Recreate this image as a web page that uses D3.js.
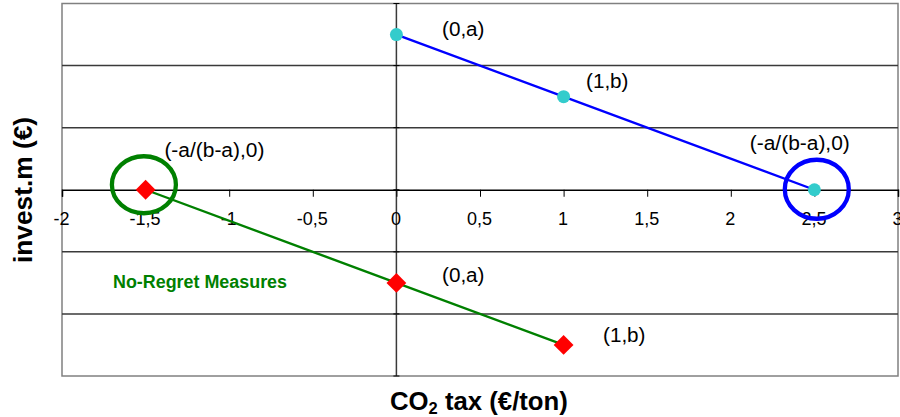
<!DOCTYPE html>
<html><head><meta charset="utf-8">
<script src="https://cdn.jsdelivr.net/npm/d3@7"></script>
<style>body{margin:0;background:#fff}svg{display:block}</style>
</head><body>
<svg id="c" width="900" height="417"></svg>
<script>
const xTicks = [-2, -1.5, -1, -0.5, 0, 0.5, 1, 1.5, 2, 2.5, 3];
const yGrid = [-3, -2, -1, 0, 1, 2, 3];
const blueX = [0, 1, 2.5];
const blueY = [2.5, 1.5, 0];
const blueLabels = ["(0,a)", "(1,b)", "(-a/(b-a),0)"];
const greenX = [-1.5, 0, 1];
const greenY = [0, -1.5, -2.5];
const greenLabels = ["(-a/(b-a),0)", "(0,a)", "(1,b)"];

const svg = d3.select("#c");
const x = d3.scaleLinear().domain([-2, 3]).range([62, 898]);
const y = d3.scaleLinear().domain([-3, 3]).range([376, 3.5]);
const font = "Liberation Sans, Arial, sans-serif";

// frame
svg.append("rect").attr("x", 62).attr("y", 3.5).attr("width", 836).attr("height", 372.5)
  .attr("fill", "none").attr("stroke", "#808080").attr("stroke-width", 1.5);
// gridlines
svg.selectAll(".g").data(yGrid.filter(v => v > -3 && v < 3 && v !== 0)).enter().append("line")
  .attr("x1", 62).attr("x2", 898).attr("y1", d => y(d)).attr("y2", d => y(d))
  .attr("stroke", "#3a3a3a").attr("stroke-width", 1.5);
// y axis at x=0
svg.append("line").attr("x1", x(0)).attr("x2", x(0)).attr("y1", 3.5).attr("y2", 376)
  .attr("stroke", "#3a3a3a").attr("stroke-width", 1.5);
svg.selectAll(".yt").data(yGrid).enter().append("line")
  .attr("x1", x(0) - 3).attr("x2", x(0) + 3).attr("y1", d => y(d)).attr("y2", d => y(d))
  .attr("stroke", "#000").attr("stroke-width", 1);
// x axis at y=0
const xAxis = d3.axisBottom(x).tickValues(xTicks).tickSize(7).tickPadding(0)
  .tickFormat(d => String(d).replace(".", ","));
const gx = svg.append("g").attr("transform", `translate(0,${y(0)})`).call(xAxis);
gx.select(".domain").attr("stroke", "#000").attr("stroke-width", 1.5);
gx.selectAll(".tick line").attr("stroke", "#000").attr("stroke-width", 1);
gx.selectAll(".tick text").attr("font-family", font).attr("font-size", 18).attr("fill", "#000")
  .attr("dy", null).attr("y", null)
  .attr("transform", "translate(-1,35)");

// lines
const line = d3.line().x(d => x(d[0])).y(d => y(d[1]));
const blue = blueX.map((v, i) => [v, blueY[i]]);
const green = greenX.map((v, i) => [v, greenY[i]]);
svg.append("path").attr("d", line(blue)).attr("fill", "none").attr("stroke", "#0000ff").attr("stroke-width", 2.4);
svg.append("path").attr("d", line(green)).attr("fill", "none").attr("stroke", "#008000").attr("stroke-width", 2.4);

// highlight circles
svg.append("ellipse").attr("cx", x(-1.5) - 1.7).attr("cy", y(0) - 5).attr("rx", 32).attr("ry", 28.5)
  .attr("fill", "none").attr("stroke", "#008000").attr("stroke-width", 4.3);
svg.append("ellipse").attr("cx", x(2.5) + 2.4).attr("cy", y(0) - 0.5).attr("rx", 32).attr("ry", 29.5)
  .attr("fill", "none").attr("stroke", "#0000ff").attr("stroke-width", 4.3);

// markers
svg.selectAll(".bm").data(blue).enter().append("circle")
  .attr("cx", d => x(d[0])).attr("cy", d => y(d[1])).attr("r", 6.5).attr("fill", "#33cccc");
svg.selectAll(".gm").data(green).enter().append("path")
  .attr("transform", d => `translate(${x(d[0])},${y(d[1])}) rotate(45)`)
  .attr("d", "M-7,-7H7V7H-7Z").attr("fill", "#ff0000");

// labels
const lenOf = s => s.length > 6 ? 100 : 42.5;
const blueOff = [[45.6, 1.2], [22.4, -8.3], [-64.6, -39.3]];
svg.selectAll(".bl").data(blue).enter().append("text")
  .attr("x", (d, i) => x(d[0]) + blueOff[i][0]).attr("y", (d, i) => y(d[1]) + blueOff[i][1])
  .attr("font-family", font).attr("font-size", 20).attr("fill", "#000")
  .attr("textLength", (d, i) => lenOf(blueLabels[i])).attr("lengthAdjust", "spacingAndGlyphs")
  .text((d, i) => blueLabels[i]);
const greenOff = [[18.8, -32.3], [45.6, -0.8], [39.4, -3]];
svg.selectAll(".gl").data(green).enter().append("text")
  .attr("x", (d, i) => x(d[0]) + greenOff[i][0]).attr("y", (d, i) => y(d[1]) + greenOff[i][1])
  .attr("font-family", font).attr("font-size", 20).attr("fill", "#000")
  .attr("textLength", (d, i) => lenOf(greenLabels[i])).attr("lengthAdjust", "spacingAndGlyphs")
  .text((d, i) => greenLabels[i]);

svg.append("text").attr("x", 113).attr("y", 288).attr("font-family", font).attr("font-size", 18)
  .attr("font-weight", "bold").attr("fill", "#008000")
  .attr("textLength", 174).attr("lengthAdjust", "spacingAndGlyphs").text("No-Regret Measures");

// axis titles
const xt = svg.append("text").attr("x", 390).attr("y", 410)
  .attr("font-family", font).attr("font-size", 25).attr("font-weight", "bold").attr("fill", "#000");
xt.append("tspan").text("CO");
xt.append("tspan").attr("font-size", 16).attr("dy", 4).text("2");
xt.append("tspan").attr("dy", -4).text(" tax (€/ton)");
const w = xt.node().getComputedTextLength();
xt.attr("transform", `translate(390,0) scale(${178 / w},1) translate(-390,0)`);

svg.append("text").attr("transform", `translate(32,190) rotate(-90)`).attr("text-anchor", "middle")
  .attr("font-family", font).attr("font-size", 25).attr("font-weight", "bold").attr("fill", "#000")
  .attr("textLength", 146).attr("lengthAdjust", "spacingAndGlyphs")
  .text("invest.m (€)");
</script>
</body></html>
